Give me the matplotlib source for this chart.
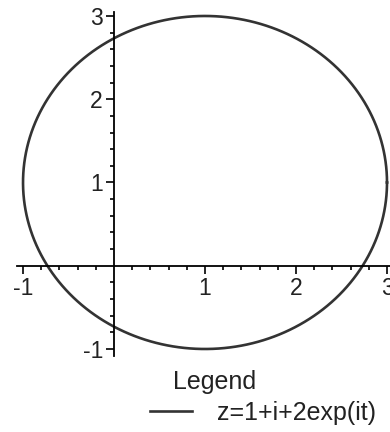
import numpy as np
import matplotlib.pyplot as plt
from matplotlib.ticker import FixedLocator

plt.rcParams['font.family'] = ['Liberation Sans', 'DejaVu Sans']
plt.rcParams['axes.unicode_minus'] = False

# z = 1 + i + 2 exp(it)
center = 1 + 1j
radius = 2
t = np.linspace(0, 2 * np.pi, 400)
z = center + radius * np.exp(1j * t)

x_major = [-1, 1, 2, 3]
y_major = [-1, 1, 2, 3]
x_labels = ['-1', '1', '2', '3']
y_labels = ['-1', '1', '2', '3']
curve_label = 'z=1+i+2exp(it)'

fig = plt.figure(figsize=(3.9, 4.32), dpi=100)
ax = fig.add_axes([0, 0, 1, 1])
ax.set_xlim(-1.253, 3.033)
ax.set_ylim(-1.997, 3.192)

line, = ax.plot(z.real, z.imag, color='#333333', lw=1.9, label=curve_label)

# axes crossing at the origin, maple style
for s in ['top', 'right']:
    ax.spines[s].set_visible(False)
ax.spines['left'].set_position(('data', 0))
ax.spines['bottom'].set_position(('data', 0))
ax.spines['bottom'].set_bounds(-1.07, 3.05)
ax.spines['left'].set_bounds(-1.08, 3.05)
for s in ['left', 'bottom']:
    ax.spines[s].set_linewidth(1.3)
    ax.spines[s].set_color('black')

ax.xaxis.set_major_locator(FixedLocator(x_major))
ax.yaxis.set_major_locator(FixedLocator(y_major))
ax.set_xticklabels(x_labels)
ax.set_yticklabels(y_labels)
minor = [v for v in np.round(np.arange(-1, 3.01, 0.2), 2) if v != round(v)]
ax.xaxis.set_minor_locator(FixedLocator(minor))
ax.yaxis.set_minor_locator(FixedLocator(minor))
ax.tick_params(which='major', direction='out', length=6, width=1.2, labelsize=16.5, pad=2,
               color='black', labelcolor='#222222')
ax.tick_params(which='minor', direction='out', length=3, width=1.2, color='black')

ax.patch.set_visible(False)

fig.text(215 / 390, 1 - 382 / 432, 'Legend', ha='center', va='center', fontsize=18, color='#222222')
leg = ax.legend(handles=[line], loc='center left', bbox_to_anchor=(127 / 390, 1 - 413 / 432),
                bbox_transform=fig.transFigure, frameon=False, fontsize=18,
                handlelength=1.68, handletextpad=1.0)
for txt in leg.get_texts():
    txt.set_color('#222222')

fig.savefig('out.png', dpi=100)
